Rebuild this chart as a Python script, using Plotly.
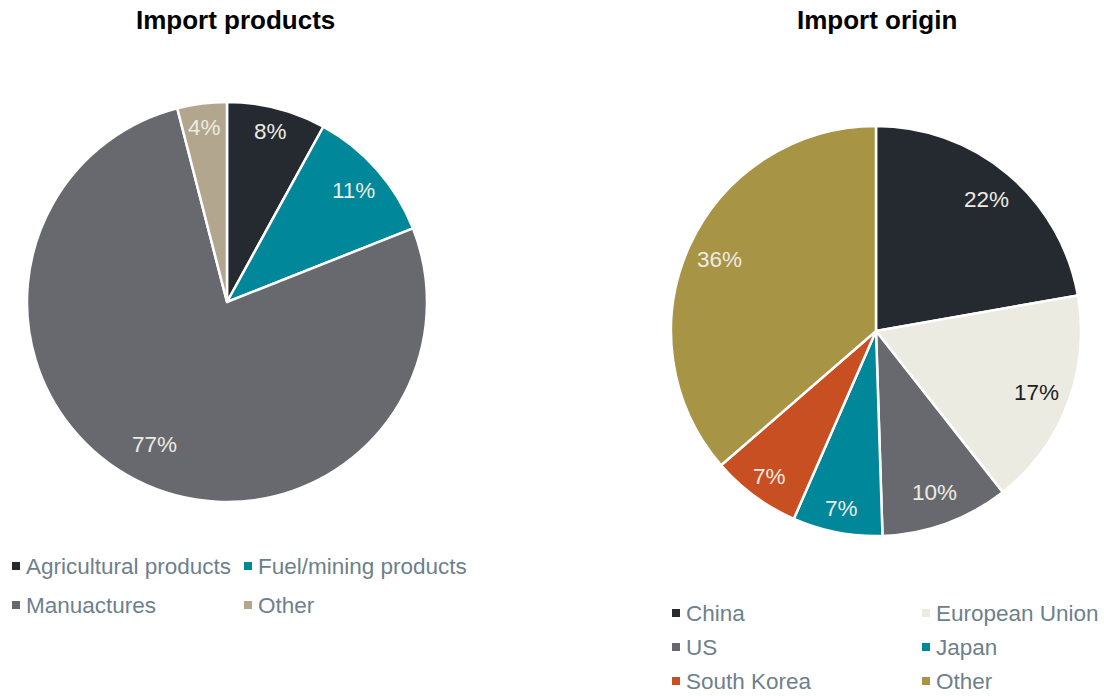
import math
import plotly.graph_objects as go

W, H = 1104, 696

# Import products
product_labels = ["Agricultural products", "Fuel/mining products", "Manuactures", "Other"]
product_values = [8, 11, 77, 4]
product_colors = ["#252a30", "#00879a", "#68696e", "#b3a68f"]
product_text_colors = ["#ecebe3", "#ecebe3", "#ecebe3", "#ecebe3"]

# Import origin
origin_labels = ["China", "European Union", "US", "Japan", "South Korea", "Other"]
origin_values = [22, 17, 10, 7, 7, 36]
origin_colors = ["#252a30", "#ecebe1", "#68696e", "#00879a", "#c84f22", "#a89445"]
origin_text_colors = ["#ecebe3", "#1e1e1e", "#ecebe3", "#ecebe3", "#ecebe3", "#ecebe3"]

FONT = "Liberation Sans, Arial, sans-serif"
LEGEND_COLOR = "#6e7f8c"


def px_x(x):
    return x / W


def px_y(y):
    return 1 - y / H


annotations = []
shapes = []

fig = go.Figure()


def add_pie(labels, values, colors, text_colors, cx, cy, r):
    fig.add_trace(go.Pie(
        labels=labels, values=values,
        sort=False, direction="clockwise", rotation=0,
        marker=dict(colors=colors, line=dict(color="white", width=2.5)),
        textinfo="none",
        domain=dict(x=[px_x(cx - r), px_x(cx + r)], y=[px_y(cy + r), px_y(cy - r)]),
        showlegend=False, hoverinfo="label+value",
    ))
    # percentage labels placed along each slice's bisector, toward the rim
    total = sum(values)
    start = 0.0
    for v, tc in zip(values, text_colors):
        frac = v / total
        mid = (start + frac / 2) * 2 * math.pi
        if frac < 0.09:
            k = 0.88
        elif frac > 0.5:
            k = 0.80
        else:
            k = 0.84
        lx = cx + r * k * math.sin(mid)
        ly = cy - r * k * math.cos(mid)
        annotations.append(dict(text=f"{v}%", x=px_x(lx), y=px_y(ly), xref="paper", yref="paper",
                                showarrow=False, xanchor="center", yanchor="middle",
                                font=dict(family=FONT, size=22.5, color=tc)))
        start += frac


add_pie(product_labels, product_values, product_colors, product_text_colors, 227, 302, 200)
add_pie(origin_labels, origin_values, origin_colors, origin_text_colors, 876, 331, 205)

for title, tx in [("Import products", 235), ("Import origin", 877)]:
    annotations.append(dict(text=f"<b>{title}</b>", x=px_x(tx), y=px_y(20), xref="paper", yref="paper",
                            showarrow=False, xanchor="center", yanchor="middle",
                            font=dict(family=FONT, size=26, color="#000000")))


def add_legend(labels, colors, col_x, text_x, row_y):
    for i, (lab, col) in enumerate(zip(labels, colors)):
        sx = col_x[i % 2]
        sy = row_y[i // 2]
        shapes.append(dict(type="rect", xref="paper", yref="paper",
                           x0=px_x(sx), x1=px_x(sx + 8), y0=px_y(sy + 4), y1=px_y(sy - 4),
                           fillcolor=col, line=dict(width=0)))
        annotations.append(dict(text=lab, x=px_x(text_x[i % 2]), y=px_y(sy), xref="paper", yref="paper",
                                showarrow=False, xanchor="left", yanchor="middle",
                                font=dict(family=FONT, size=22.5, color=LEGEND_COLOR)))


add_legend(product_labels, product_colors, [12, 244], [24, 256], [566, 605])
add_legend(origin_labels, origin_colors, [672, 922], [684, 934], [613, 647, 681])

fig.update_layout(
    width=W, height=H,
    margin=dict(l=0, r=0, t=0, b=0),
    paper_bgcolor="white", plot_bgcolor="white",
    annotations=annotations, shapes=shapes,
)

fig.write_html("out.html")
